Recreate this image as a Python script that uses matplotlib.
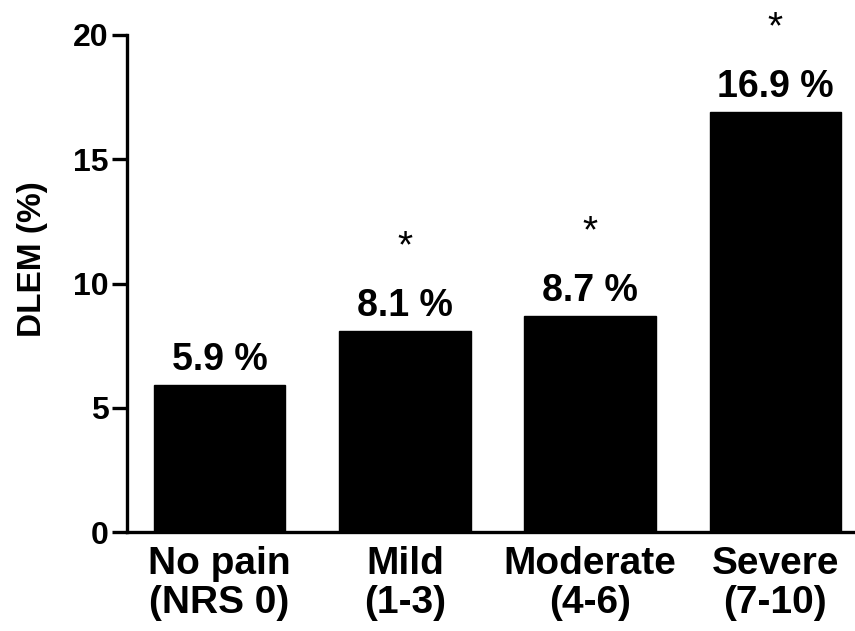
import matplotlib
matplotlib.use("Agg")
import matplotlib.pyplot as plt

plt.rcParams['font.family'] = ['Liberation Sans', 'DejaVu Sans']

categories = ["No pain\n(NRS 0)", "Mild\n(1-3)", "Moderate\n(4-6)", "Severe\n(7-10)"]
values = [5.9, 8.1, 8.7, 16.9]
significant = [False, True, True, True]
yticks = [0, 5, 10, 15, 20]

fig = plt.figure(figsize=(8.55, 6.31), dpi=100)
ax = fig.add_axes([127 / 855, 99 / 631, 728 / 855, 497 / 631])

x = list(range(len(values)))
ax.bar(x, values, width=0.71, color="black", edgecolor="black")

ax.set_xlim(-0.5, 3.43)
ax.set_ylim(0, 20)
ax.set_yticks(yticks)
ax.set_yticklabels([str(t) for t in yticks], fontsize=23, fontweight="bold")
ax.set_xticks(x)
ax.set_xticklabels(categories, fontsize=28, fontweight="bold", linespacing=1.12)
ax.tick_params(axis="x", length=0, pad=10)
ax.tick_params(axis="y", length=11, width=2.4, pad=2, direction="out")

for side in ("top", "right"):
    ax.spines[side].set_visible(False)
for side in ("left", "bottom"):
    ax.spines[side].set_linewidth(2.4)

ax.set_ylabel("DLEM (%)", fontsize=24, fontweight="bold")
ax.yaxis.set_label_coords(-0.108, 0.55)

for xi, v, sig in zip(x, values, significant):
    ax.annotate(f"{v:.1f} %", (xi, v), xytext=(0, 5), textcoords="offset points",
                ha="center", va="bottom", fontsize=27, fontweight="bold",
                annotation_clip=False)
    if sig:
        ax.annotate("*", (xi, v), xytext=(0, 60), textcoords="offset points",
                    ha="center", va="center", fontsize=28,
                    annotation_clip=False)

fig.savefig("out.png", dpi=100)
